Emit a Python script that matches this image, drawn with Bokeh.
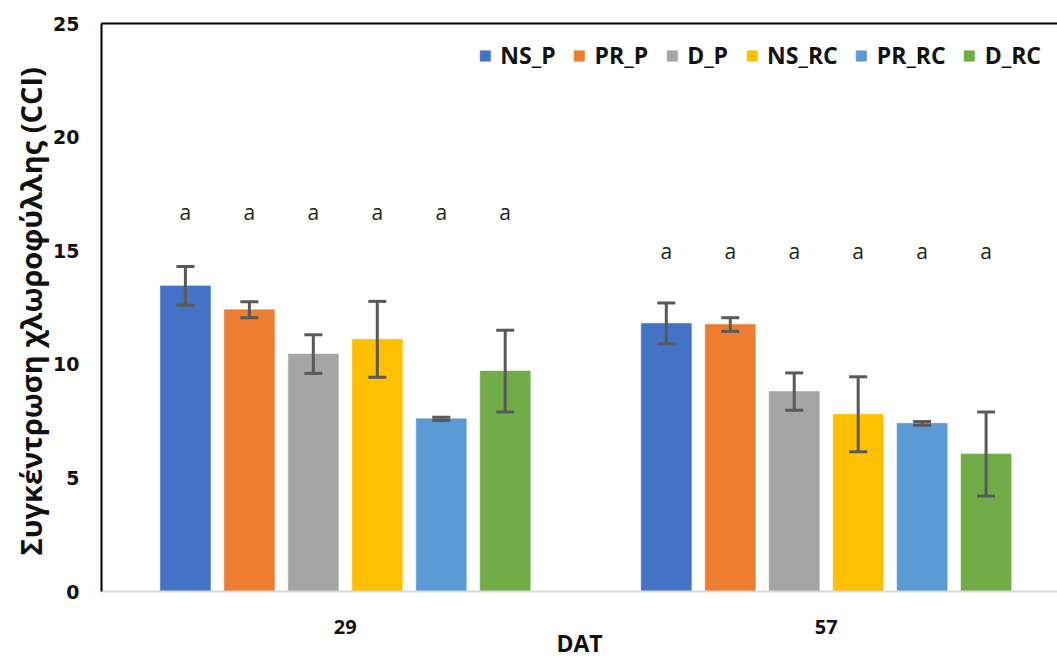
from bokeh.plotting import figure
from bokeh.models import (ColumnDataSource, Whisker, TeeHead, Legend, LegendItem,
                          FixedTicker, LinearAxis, Range1d)
from bokeh.core.properties import value
from bokeh.embed import file_html
from bokeh.resources import INLINE

# ---- data ----
groups = ["29", "57"]
series = ["NS_P", "PR_P", "D_P", "NS_RC", "PR_RC", "D_RC"]
colors = ["#4472C4", "#ED7D31", "#A5A5A5", "#FFC000", "#5B9BD5", "#70AD47"]
NS_P = [13.45, 11.8]
PR_P = [12.4, 11.75]
D_P = [10.45, 8.8]
NS_RC = [11.1, 7.8]
PR_RC = [7.6, 7.4]
D_RC = [9.7, 6.05]
NS_P_err = [0.85, 0.9]
PR_P_err = [0.35, 0.3]
D_P_err = [0.85, 0.82]
NS_RC_err = [1.67, 1.65]
PR_RC_err = [0.07, 0.08]
D_RC_err = [1.8, 1.85]
letters = [["a"] * 6, ["a"] * 6]
letter_y = [16.7, 15.0]

values = [NS_P, PR_P, D_P, NS_RC, PR_RC, D_RC]
errors = [NS_P_err, PR_P_err, D_P_err, NS_RC_err, PR_RC_err, D_RC_err]

p = figure(width=1057, height=661, output_backend="svg", toolbar_location=None,
           x_range=Range1d(-0.007, 1.981), y_range=Range1d(0, 25),
           min_border_left=101, min_border_right=0, min_border_top=23,
           min_border_bottom=68)
p.outline_line_color = None
p.xgrid.visible = False
p.ygrid.visible = False

step = 0.133
bw = 0.104
items = []
for i, (name, col, vals, errs) in enumerate(zip(series, colors, values, errors)):
    off = (i - 2.5) * step
    xs = [g + 0.5 + off for g in range(len(groups))]
    src = ColumnDataSource(dict(x=xs, top=vals,
                                upper=[v + e for v, e in zip(vals, errs)],
                                lower=[v - e for v, e in zip(vals, errs)],
                                ly=letter_y,
                                lt=[letters[g][i] for g in range(len(groups))]))
    r = p.vbar(x="x", top="top", width=bw, source=src, fill_color=col,
               line_color=col, line_alpha=0.6)
    items.append(LegendItem(label=name, renderers=[r]))
    w = Whisker(base="x", upper="upper", lower="lower", source=src, level="overlay",
                line_color="#595959", line_width=3,
                upper_head=TeeHead(size=18, line_color="#595959", line_width=3),
                lower_head=TeeHead(size=18, line_color="#595959", line_width=3))
    p.add_layout(w)
    p.text(x="x", y="ly", text="lt", source=src, text_align="center",
           text_baseline="middle", text_font=value("Open Sans"),
           text_font_size="21px", text_color="#222222")

legend = Legend(items=items, orientation="horizontal", location="top_right",
                label_text_font="Open Sans", label_text_font_style="bold",
                label_text_font_size="23px", label_text_color="#111111",
                glyph_width=13, glyph_height=13, label_standoff=9, spacing=17,
                background_fill_alpha=0, border_line_color=None,
                margin=16, padding=6)
p.add_layout(legend)

# x axis
p.xaxis.ticker = FixedTicker(ticks=[0.5, 1.5])
p.xaxis.major_label_overrides = {0.5: "29", 1.5: "57"}
p.xaxis.major_tick_line_color = None
p.xaxis.major_tick_out = 0
p.xaxis.minor_tick_line_color = None
p.xaxis.axis_line_color = "#d9d9d9"
p.xaxis.axis_line_width = 2
p.xaxis.major_label_text_font = "Open Sans"
p.xaxis.major_label_text_font_style = "bold"
p.xaxis.major_label_text_font_size = "20px"
p.xaxis.major_label_text_color = "#111111"
p.xaxis.major_label_standoff = 28
p.xaxis.axis_label = "DAT"
p.xaxis.axis_label_text_font = "Open Sans"
p.xaxis.axis_label_text_font_style = "bold"
p.xaxis.axis_label_text_font_size = "23px"
p.xaxis.axis_label_text_color = "#111111"
p.xaxis.axis_label_standoff = -10

# y axis
p.yaxis.ticker = FixedTicker(ticks=[0, 5, 10, 15, 20, 25])
p.yaxis.major_tick_line_color = None
p.yaxis.major_tick_out = 0
p.yaxis.minor_tick_line_color = None
p.yaxis.axis_line_color = "black"
p.yaxis.axis_line_width = 2
p.yaxis.major_label_text_font = "DejaVu Sans"
p.yaxis.major_label_text_font_style = "bold"
p.yaxis.major_label_text_font_size = "19px"
p.yaxis.major_label_text_color = "#111111"
p.yaxis.major_label_standoff = 22
p.yaxis.axis_label = "Συγκέντρωση χλωροφύλλης  (CCI)"
p.yaxis.axis_label_text_font = "Open Sans"
p.yaxis.axis_label_text_font_style = "bold"
p.yaxis.axis_label_text_font_size = "29px"
p.yaxis.axis_label_text_color = "#111111"
p.yaxis.axis_label_standoff = 0

# top border line
top_ax = LinearAxis(ticker=FixedTicker(ticks=[]), axis_line_color="black",
                    axis_line_width=2, major_tick_line_color=None,
                    minor_tick_line_color=None, major_label_text_font_size="0px")
p.add_layout(top_ax, "above")

open("out.html", "w").write(file_html(p, INLINE))
